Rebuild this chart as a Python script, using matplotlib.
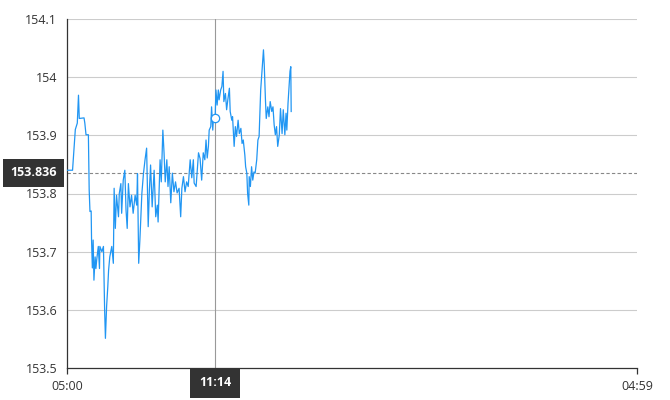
import matplotlib
matplotlib.use("Agg")
import matplotlib.pyplot as plt

plt.rcParams['font.family'] = ['Open Sans', 'DejaVu Sans']

# minutes after 05:00
minutes = [0, 14, 18, 21, 26, 29, 31, 43, 45, 48, 54, 56, 58, 61, 62, 64, 66, 68, 71, 73,
           75, 79, 82, 83, 88, 92, 95, 97, 100, 103, 105, 108, 113, 117, 119, 122, 125, 130,
           132, 136, 138, 142, 146, 149, 152, 155, 159, 163, 167, 172, 176, 178, 181, 184,
           189, 193, 197, 201, 205, 208, 211, 215, 220, 224, 228, 230, 235, 238, 242, 245,
           248, 252, 255, 258, 262, 266, 270, 274, 278, 283, 287, 290, 294, 298, 302, 306,
           311, 315, 319, 321, 326, 329, 332, 336, 340, 344, 348, 351, 354, 357, 359, 363,
           365, 368, 370, 374, 376, 379, 382, 384, 388, 391, 394, 396, 400, 403, 406, 410,
           412, 416, 418, 422, 425, 428, 432, 435, 439, 442, 445, 449, 451, 454, 456, 459,
           460, 463, 466, 469, 472, 475, 479, 482, 485, 489, 492, 496, 498, 501, 503, 507,
           510, 513, 517, 520, 523, 526, 529, 532, 536, 539, 543, 546, 550, 553, 555, 558,
           561, 563, 565, 566]
prices = [153.840, 153.840, 153.881, 153.910, 153.921, 153.969, 153.929, 153.930, 153.921,
          153.901, 153.901, 153.806, 153.769, 153.770, 153.720, 153.672, 153.720, 153.651,
          153.691, 153.671, 153.686, 153.709, 153.671, 153.709, 153.700, 153.709, 153.600,
          153.551, 153.606, 153.640, 153.668, 153.691, 153.709, 153.680, 153.809, 153.740,
          153.797, 153.760, 153.800, 153.817, 153.766, 153.823, 153.840, 153.772, 153.740,
          153.817, 153.777, 153.797, 153.766, 153.797, 153.780, 153.834, 153.680, 153.720,
          153.800, 153.834, 153.858, 153.878, 153.743, 153.806, 153.849, 153.777, 153.840,
          153.760, 153.780, 153.751, 153.858, 153.820, 153.909, 153.870, 153.820, 153.858,
          153.812, 153.846, 153.784, 153.835, 153.803, 153.820, 153.801, 153.809, 153.760,
          153.809, 153.829, 153.803, 153.820, 153.812, 153.858, 153.827, 153.858, 153.818,
          153.812, 153.840, 153.870, 153.860, 153.823, 153.870, 153.858, 153.892, 153.861,
          153.881, 153.909, 153.915, 153.949, 153.909, 153.932, 153.929, 153.978, 153.952,
          153.978, 153.961, 153.978, 153.984, 154.010, 153.958, 153.972, 153.944, 153.961,
          153.981, 153.941, 153.926, 153.932, 153.881, 153.915, 153.898, 153.926, 153.903,
          153.912, 153.886, 153.892, 153.866, 153.846, 153.835, 153.800, 153.780, 153.829,
          153.812, 153.846, 153.823, 153.837, 153.835, 153.858, 153.892, 153.898, 153.978,
          154.007, 154.047, 154.021, 153.961, 153.929, 153.949, 153.932, 153.958, 153.941,
          153.949, 153.918, 153.901, 153.915, 153.881, 153.901, 153.946, 153.903, 153.944,
          153.901, 153.938, 153.909, 153.955, 153.987, 154.010, 154.018, 153.941]

x_ticks = [0, 1439]
x_tick_labels = ["05:00", "04:59"]
y_ticks = [153.5, 153.6, 153.7, 153.8, 153.9, 154.0, 154.1]
y_tick_labels = ["153.5", "153.6", "153.7", "153.8", "153.9", "154", "154.1"]

hover_minute = 374
hover_label = "11:14"
hover_price = 153.929
ref_price = 153.836
ref_label = "153.836"

line_color = "#2196F3"
text_color = "#333333"

fig = plt.figure(figsize=(6.7, 4.0), dpi=100)
ax = fig.add_axes([0.1, 0.08, 0.8507, 0.8725])

ax.set_xlim(0, 1439)
ax.set_ylim(153.5, 154.1)

for yv in y_ticks[1:]:
    ax.axhline(yv, color="#cccccc", lw=0.8, zorder=1)

ax.plot(minutes, prices, color=line_color, lw=0.9, zorder=3)

# crosshair
ax.axvline(hover_minute, color="#999999", lw=0.8, zorder=2)
ax.axhline(ref_price, color="#888888", lw=0.8, ls=(0, (3, 2)), zorder=2)
ax.plot([hover_minute], [hover_price], marker="o", ms=6, mfc="white",
        mec=line_color, mew=0.9, zorder=4)

for s in ["top", "right"]:
    ax.spines[s].set_visible(False)
ax.spines["left"].set_color(text_color)
ax.spines["bottom"].set_color(text_color)
ax.spines["left"].set_linewidth(0.9)
ax.spines["bottom"].set_linewidth(0.9)

ax.set_yticks(y_ticks)
ax.set_yticklabels(y_tick_labels)
ax.set_xticks(x_ticks)
ax.set_xticklabels(x_tick_labels)
ax.tick_params(axis="y", length=0, pad=7, labelsize=9, labelcolor=text_color)
ax.tick_params(axis="x", length=4, width=0.9, color=text_color, pad=5,
               labelsize=9, labelcolor=text_color)

# tooltip boxes
ax.annotate(ref_label, xy=(0, ref_price), xycoords=("axes fraction", "data"),
            xytext=(-24, 0), textcoords="offset points", ha="center", va="center",
            color="white", fontsize=9, fontweight="bold", zorder=10,
            bbox=dict(boxstyle="square,pad=0.6", fc="#333333", ec="none"),
            annotation_clip=False)
ax.annotate(hover_label, xy=(hover_minute, 0), xycoords=("data", "axes fraction"),
            xytext=(0, -10.8), textcoords="offset points", ha="center", va="center",
            color="white", fontsize=9, fontweight="bold", zorder=10,
            bbox=dict(boxstyle="square,pad=0.7", fc="#333333", ec="none"),
            annotation_clip=False)

fig.savefig("out.png", dpi=100)
